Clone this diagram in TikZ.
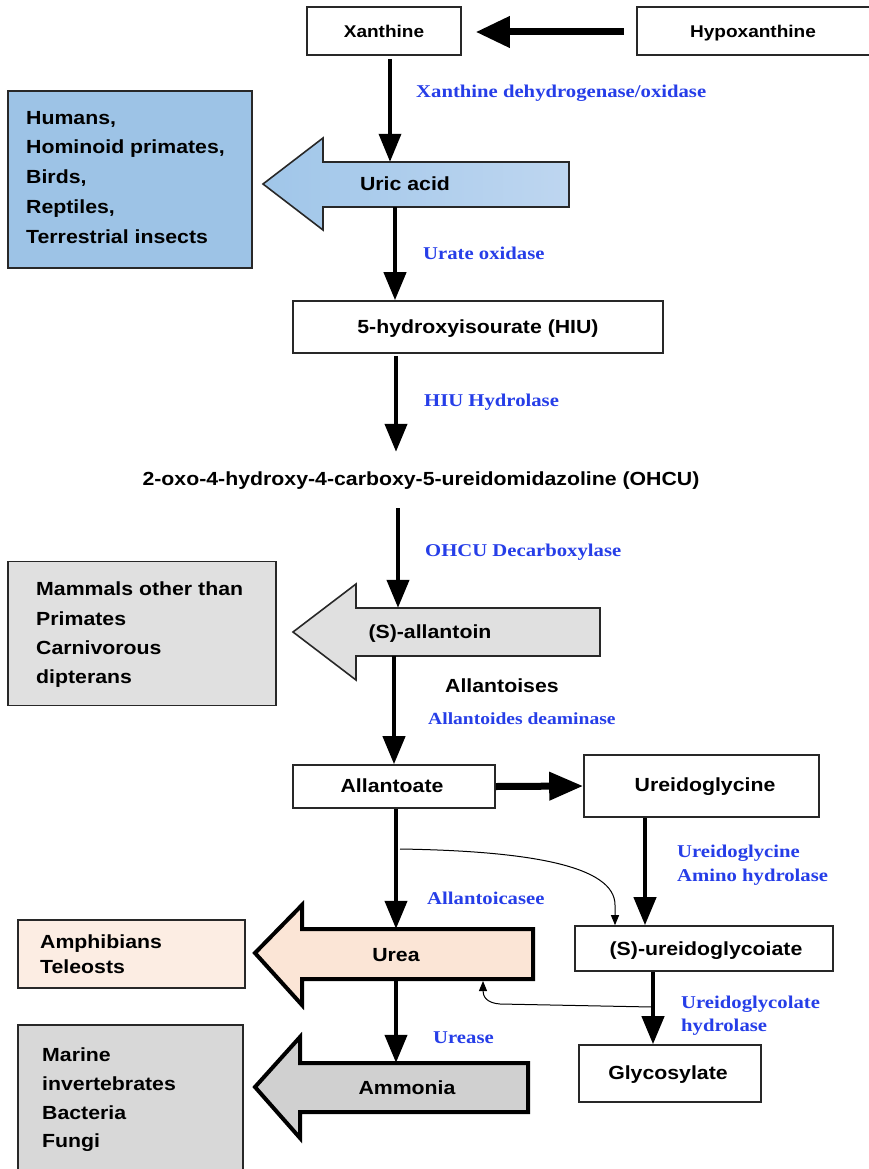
\documentclass[tikz,border=0pt]{standalone}
\usepackage{fontspec}
\setmainfont{Liberation Sans}[FakeStretch=1.12]
\newfontfamily\enzfont{Liberation Serif}[FakeStretch=1.15]
\usetikzlibrary{arrows.meta}
\definecolor{enzblue}{RGB}{38,62,232}
\definecolor{boxblue}{RGB}{157,195,230}
\definecolor{arrblueL}{RGB}{160,198,233}
\definecolor{arrblueR}{RGB}{190,214,240}
\definecolor{lgrey}{RGB}{224,224,224}
\definecolor{peach}{RGB}{252,237,227}
\definecolor{peachA}{RGB}{251,229,214}
\definecolor{mgrey}{RGB}{216,216,216}
\definecolor{ammgrey}{RGB}{208,208,208}
\definecolor{edge}{RGB}{40,40,40}
\tikzset{
  lab/.style={font=\fontsize{19}{22}\selectfont\bfseries, inner sep=0pt, text height=13.6pt, text depth=0pt},
  enz/.style={font=\enzfont\fontsize{18}{21}\selectfont\bfseries, text=enzblue, inner sep=0pt, anchor=west, text height=12pt, text depth=0pt},
  pbox/.style={draw=edge, line width=1.6pt, fill=white, inner sep=0pt},
  sidebox/.style={draw=edge, line width=1.8pt},
  flow/.style={line width=4.2pt, -{Triangle[length=28pt,width=22pt]}},
  flowh/.style={line width=7pt, -{Triangle[length=34pt,width=30pt]}},
  thin/.style={line width=1pt, -{Triangle[length=10pt,width=8pt]}},
  blockthin/.style={draw=edge, line width=1.6pt},
  blockthick/.style={draw=black, line width=4pt, line join=miter},
}
\begin{document}
\begin{tikzpicture}[x=1pt,y=-1pt]
\useasboundingbox (0,0) rectangle (868,1169);
\fill[white] (0,0) rectangle (868,1169);

% column coordinates
\coordinate (k1) at (390,0);
\coordinate (k2) at (395,0);
\coordinate (k3) at (396,0);
\coordinate (k4) at (398,0);
\coordinate (k5) at (394,0);
\coordinate (k6) at (396,0);
\coordinate (k7) at (645,0);
\coordinate (k8) at (653,0);
\coordinate (k9) at (615,0);

% top boxes
\node[pbox, minimum width=154, minimum height=48] (xan) at (384,31) {};
\node[lab, font=\fontsize{17}{20}\selectfont\bfseries] (xanT) at (384,31) {Xanthine};
\node[pbox, minimum width=236, minimum height=48] (hyp) at (755,31) {};
\node[lab, font=\fontsize{17}{20}\selectfont\bfseries] (hypT) at (753,31) {Hypoxanthine};

% left blue box
\node[sidebox, fill=boxblue, minimum width=244, minimum height=177, inner sep=0pt] (sp1) at (130,179.5) {};
\node[lab, anchor=base west] (sp1a) at (26,125) {Humans,};
\node[lab, anchor=base west] (sp1b) at (26,154) {Hominoid primates,};
\node[lab, anchor=base west] (sp1c) at (26,184) {Birds,};
\node[lab, anchor=base west] (sp1d) at (26,214) {Reptiles,};
\node[lab, anchor=base west] (sp1e) at (26,243) {Terrestrial insects};

% uric acid block arrow
\path[blockthin, left color=arrblueL, right color=arrblueR]
  (263,184) -- (323,138) -- (323,162) -- (569,162) -- (569,207) -- (323,207) -- (323,230) -- cycle;
\node[minimum width=246, minimum height=45, inner sep=0pt] (uric) at (446,184.5) {};
\node[lab] (uricT) at (405,184) {Uric acid};

% HIU
\node[pbox, minimum width=370, minimum height=52] (hiu) at (478,327) {};
\node[lab] (hiuT) at (478,327) {5-hydroxyisourate (HIU)};

% OHCU
\node[lab, minimum height=28] (ohcu) at (421,479) {2-oxo-4-hydroxy-4-carboxy-5-ureidomidazoline (OHCU)};

% grey box 1
\node[sidebox, fill=lgrey, minimum width=268, minimum height=144, inner sep=0pt] (sp2) at (142,633.5) {};
\node[lab, anchor=base west] (sp2a) at (36,595) {Mammals other than};
\node[lab, anchor=base west] (sp2b) at (36,625) {Primates};
\node[lab, anchor=base west] (sp2c) at (36,654) {Carnivorous};
\node[lab, anchor=base west] (sp2d) at (36,683) {dipterans};

% allantoin block arrow
\path[blockthin, fill=lgrey]
  (293,632) -- (356,584) -- (356,608) -- (600,608) -- (600,656) -- (356,656) -- (356,680) -- cycle;
\node[minimum width=244, minimum height=48, inner sep=0pt] (allan) at (478,632) {};
\node[lab] (allanT) at (430,632) {(S)-allantoin};

\node[lab, anchor=west] (allases) at (445,686) {Allantoises};

% Allantoate, Ureidoglycine
\node[pbox, minimum width=202, minimum height=43] (allate) at (394,786.5) {};
\node[lab] (allateT) at (392,786) {Allantoate};
\node[pbox, minimum width=235, minimum height=62] (ugly) at (701.5,786) {};
\node[lab] (uglyT) at (705,785) {Ureidoglycine};

% Ureidoglycoiate, Glycosylate
\node[pbox, minimum width=258, minimum height=45] (ugc) at (704,948.5) {};
\node[lab] (ugcT) at (706,949) {(S)-ureidoglycoiate};
\node[pbox, minimum width=182, minimum height=57] (gly) at (670,1073.5) {};
\node[lab] (glyT) at (668,1073) {Glycosylate};

% amphibians box
\node[sidebox, fill=peach, minimum width=227, minimum height=68, inner sep=0pt] (sp3) at (131.5,954) {};
\node[lab, anchor=base west] (sp3a) at (40,948) {Amphibians};
\node[lab, anchor=base west] (sp3b) at (40,973) {Teleosts};

% urea block arrow
\path[blockthick, fill=peachA]
  (255,953) -- (302,905) -- (302,929) -- (533,929) -- (533,979) -- (302,979) -- (302,1005) -- cycle;
\node[minimum width=231, minimum height=50, inner sep=0pt] (urea) at (417.5,954) {};
\node[lab] (ureaT) at (396,955) {Urea};

% marine box
\node[sidebox, fill=mgrey, minimum width=225, minimum height=152, inner sep=0pt] (sp4) at (130.5,1101) {};
\node[lab, anchor=base west] (sp4a) at (42,1061) {Marine};
\node[lab, anchor=base west] (sp4b) at (42,1090) {invertebrates};
\node[lab, anchor=base west] (sp4c) at (42,1119) {Bacteria};
\node[lab, anchor=base west] (sp4d) at (42,1147) {Fungi};

% ammonia block arrow
\path[blockthick, fill=ammgrey]
  (255,1087) -- (300,1037) -- (300,1063) -- (528,1063) -- (528,1112) -- (300,1112) -- (300,1138) -- cycle;
\node[minimum width=228, minimum height=49, inner sep=0pt] (amm) at (414,1087.5) {};
\node[lab] (ammT) at (407,1088) {Ammonia};

% enzyme labels
\node[enz] (e1) at (416,92) {Xanthine dehydrogenase/oxidase};
\node[enz] (e2) at (423,253) {Urate oxidase};
\node[enz] (e3) at (424,400) {HIU Hydrolase};
\node[enz] (e4) at (425,550) {OHCU Decarboxylase};
\node[enz, font=\enzfont\fontsize{17}{20}\selectfont\bfseries, text height=11.4pt] (e5) at (428,719) {Allantoides deaminase};
\node[enz] (e6) at (427,898) {Allantoicasee};
\node[enz] (e7a) at (677,851) {Ureidoglycine};
\node[enz] (e7b) at (677,875) {Amino hydrolase};
\node[enz] (e8a) at (681,1002) {Ureidoglycolate};
\node[enz] (e8b) at (681,1025) {hydrolase};
\node[enz] (e9) at (433,1037) {Urease};

% main flow connectors
\draw[flowh] ([xshift=-12pt,yshift=-1pt]hyp.west) -- ([xshift=14pt,yshift=-1pt]xan.east);
\draw[flow, line width=3.6pt] ([yshift=-3pt]xan.south -| k1) -- (uric.north -| k1);
\draw[flow] (uric.south -| k2) -- (hiu.north -| k2);
\draw[flow] ([yshift=-2pt]hiu.south -| k3) -- ([yshift=13pt]ohcu.north -| k3);
\draw[flow] ([yshift=-15pt]ohcu.south -| k4) -- (allan.north -| k4);
\draw[flow] (allan.south -| k5) -- (allate.north -| k5);
\draw[flowh, -{Triangle[length=34pt,width=27pt]}] (allate.east) -- (ugly.west);
\draw[flow] (allate.south -| k6) -- (urea.north -| k6);
\draw[flow] (ugly.south -| k7) -- (ugc.north -| k7);
\draw[flow] (urea.south -| k6) -- (amm.north -| k6);
\draw[flow] (ugc.south -| k8) -- (gly.north -| k8);

% thin side connectors
\coordinate (t1) at (400,849);
\draw[thin] (t1) .. controls (530,851) and (615,866) .. (615,905) -- (ugc.north -| k9);
\coordinate (t2) at (652,1007);
\draw[thin] (t2) -- (500,1004) .. controls (486,1003) and (483,996) .. (483,981);
\end{tikzpicture}
\end{document}
